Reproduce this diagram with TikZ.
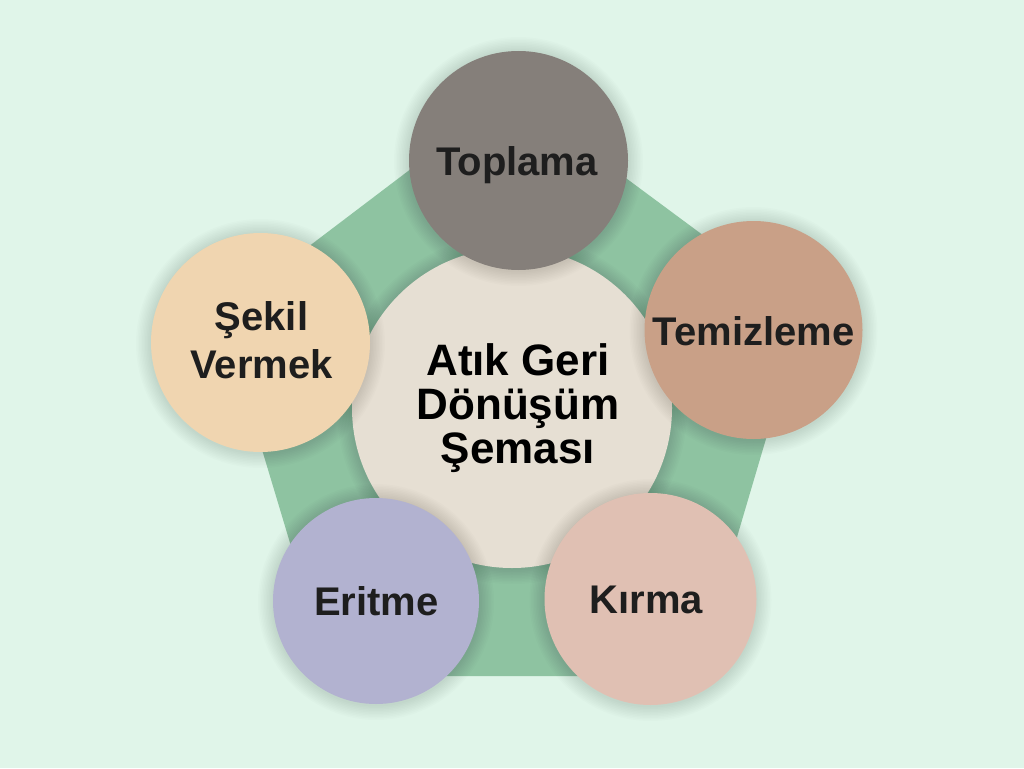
\documentclass[tikz,border=0pt]{standalone}
\usepackage{fontspec}
\setmainfont{Liberation Sans}
\definecolor{bgc}{HTML}{E0F5E9}
\definecolor{pentc}{HTML}{8EC3A1}
\definecolor{centc}{HTML}{E6DFD3}
\definecolor{topc}{HTML}{857F7A}
\definecolor{rightc}{HTML}{C9A087}
\definecolor{brc}{HTML}{E0C0B3}
\definecolor{blc}{HTML}{B2B2D0}
\definecolor{leftc}{HTML}{F0D5B0}
\definecolor{txtc}{HTML}{1E1E1E}
\tikzset{
  shadowring/.style={fill=black, fill opacity=0.012},
  bubble/.style={circle, inner sep=0pt, draw=none},
  outerlabel/.style={inner sep=0pt, anchor=base, text=txtc, align=center,
    font=\fontsize{40}{48}\selectfont\bfseries},
  centerlabel/.style={inner sep=0pt, anchor=base, text=black, align=center,
    font=\fontsize{44}{44}\selectfont\bfseries}
}
\begin{document}
\begin{tikzpicture}[x=1pt,y=-1pt]
\fill[bgc] (0,0) rectangle (1024,768);
\useasboundingbox (0,0) rectangle (1024,768);
% pentagon
\coordinate (pt) at (511,93);
\coordinate (pr) at (804,310);
\coordinate (pbr) at (696,676);
\coordinate (pbl) at (330,676);
\coordinate (pl) at (221,313);
\fill[pentc] (pt) -- (pr) -- (pbr) -- (pbl) -- (pl) -- cycle;
% circle centres
\coordinate (ccenter) at (512,408);
\coordinate (ctoplama) at (518.5,160.5);
\coordinate (ctemizleme) at (753.5,330);
\coordinate (ckirma) at (650.5,599);
\coordinate (ceritme) at (376,601);
\coordinate (csekil) at (260.5,342.5);
% center
\foreach \k in {1,...,10} \fill[shadowring] ([yshift=-1pt]ccenter) circle ({160+1.5*\k});
\node[bubble, fill=centc, minimum size=320pt] (center) at (ccenter) {};
% outer circles with soft shadows
\foreach \c/\r in {ctoplama/109.5, ctemizleme/109, ckirma/106, ceritme/103, csekil/109.5}
  \foreach \k in {1,...,10} \fill[shadowring] ([yshift=-1pt]\c) circle ({\r+1.5*\k});
\node[bubble, fill=topc, minimum size=219pt] (toplama) at (ctoplama) {};
\node[bubble, fill=rightc, minimum size=218pt] (temizleme) at (ctemizleme) {};
\node[bubble, fill=brc, minimum size=212pt] (kirma) at (ckirma) {};
\node[bubble, fill=blc, minimum size=206pt] (eritme) at (ceritme) {};
\node[bubble, fill=leftc, minimum size=219pt] (sekil) at (csekil) {};
% labels
\node[outerlabel] (ltoplama) at (517,175) {Toplama};
\node[outerlabel] (ltemizleme) at (753.5,345) {Temizleme};
\node[outerlabel] (lkirma) at (646.5,613) {Kırma};
\node[outerlabel] (leritme) at (376.5,615) {Eritme};
\node[outerlabel] (lsekil) at (261.5,378) {Şekil\\Vermek};
\node[centerlabel] (lcenter) at (518,463) {Atık Geri\\Dönüşüm\\Şeması};
\end{tikzpicture}
\end{document}
